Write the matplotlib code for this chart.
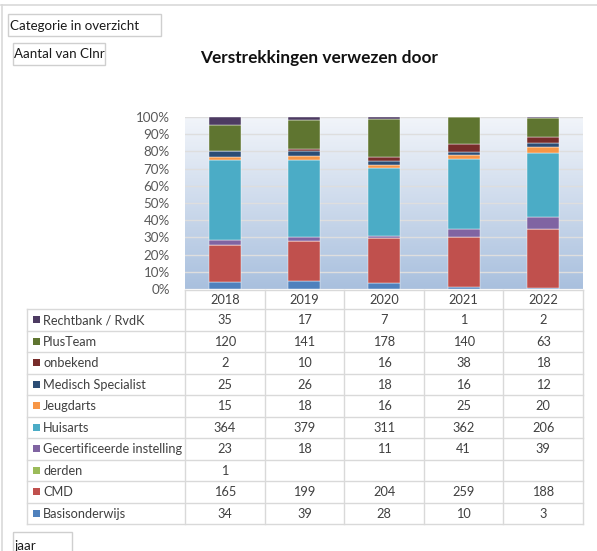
import numpy as np
import matplotlib
matplotlib.use("Agg")
import matplotlib.pyplot as plt
from matplotlib.patches import Rectangle
from matplotlib.colors import LinearSegmentedColormap

plt.rcParams['font.family'] = ['Lato', 'DejaVu Sans']

# data
years = ['2018', '2019', '2020', '2021', '2022']
# bottom to top of the stack
categories = ['Basisonderwijs', 'CMD', 'derden', 'Gecertificeerde instelling', 'Huisarts',
              'Jeugdarts', 'Medisch Specialist', 'onbekend', 'PlusTeam', 'Rechtbank / RvdK']
basisonderwijs = [34, 39, 28, 10, 3]
cmd = [165, 199, 204, 259, 188]
derden = [1, None, None, None, None]
gecertificeerd = [23, 18, 11, 41, 39]
huisarts = [364, 379, 311, 362, 206]
jeugdarts = [15, 18, 16, 25, 20]
medisch = [25, 26, 18, 16, 12]
onbekend = [2, 10, 16, 38, 18]
plusteam = [120, 141, 178, 140, 63]
rechtbank = [35, 17, 7, 1, 2]
series = [basisonderwijs, cmd, derden, gecertificeerd, huisarts,
          jeugdarts, medisch, onbekend, plusteam, rechtbank]
colors = ['#4F81BD', '#C0504D', '#9BBB59', '#8064A2', '#4BACC6',
          '#F79646', '#2C4D75', '#772C2A', '#5F7530', '#4D3B62']

W, H = 597, 551
fig = plt.figure(figsize=(W / 100, H / 100), dpi=100)

# canvas in pixel coords for boxes and the data table
cv = fig.add_axes([0, 0, 1, 1])
cv.set_xlim(0, W)
cv.set_ylim(H, 0)
cv.axis('off')

# chart area border
cv.plot([1, W], [5, 5], color='#d9d9d9', lw=1.2)
cv.plot([1.5, 1.5], [5, H], color='#d9d9d9', lw=1.2)

# field buttons
def box(x0, y0, x1, y1, txt):
    cv.add_patch(Rectangle((x0, y0), x1 - x0, y1 - y0, fill=False, ec='#cfcfcf', lw=1))
    cv.text(x0 + 1.5, (y0 + y1) / 2 + 0.5, txt, fontsize=9.6, va='center', ha='left', color='#1a1a1a')

box(8, 14, 161, 36, 'Categorie in overzicht')
box(13, 43, 105, 65, 'Aantal van Clnr')
box(13, 532, 72, 560, 'jaar')

cv.text(319, 58, 'Verstrekkingen verwezen door', fontsize=12.4, fontweight='bold',
        ha='center', va='center', color='#111111')

# plot area
px0, px1, py0, py1 = 185, 583, 117, 289
ax = fig.add_axes([px0 / W, 1 - py1 / H, (px1 - px0) / W, (py1 - py0) / H])
grad = np.linspace(0, 1, 256).reshape(-1, 1)
cmap = LinearSegmentedColormap.from_list('bg', ['#a9c0de', '#f2f5fa'])
ax.imshow(grad, aspect='auto', cmap=cmap, extent=[-0.5, 4.5, 0, 100], origin='lower', zorder=0)

vals = np.array([[v if v is not None else 0 for v in s] for s in series], dtype=float)
totals = vals.sum(axis=0)
pct = vals / totals * 100
x = np.arange(len(years))
bottom = np.zeros(len(years))
for i, c in enumerate(categories):
    ax.bar(x, pct[i], 0.4, bottom=bottom, color=colors[i], zorder=3,
           edgecolor='#ffffff', linewidth=0.3)
    bottom += pct[i]

ax.set_xlim(-0.5, 4.5)
ax.set_ylim(0, 100)
ax.set_yticks(np.arange(0, 101, 10))
ax.set_yticklabels([f'{t}%' for t in range(0, 101, 10)], fontsize=9.6, color='#595959')
ax.yaxis.grid(True, color='#dedede', lw=1, zorder=1)
ax.set_xticks([])
ax.tick_params(axis='y', length=0, pad=11)
for s in ax.spines.values():
    s.set_visible(False)

# data table
line_c = '#d9d9d9'
fs = 9.2
col_w = (px1 - px0) / len(years)
hdr_top, hdr_bot = 290, 309
row_h = 21.5
n_rows = len(categories)
tbl_bot = hdr_bot + n_rows * row_h
lab_x0 = 27

# header
cv.plot([px0, px1], [hdr_top, hdr_top], color=line_c, lw=1)
for j, yr in enumerate(years):
    cv.text(px0 + (j + 0.5) * col_w, (hdr_top + hdr_bot) / 2 + 0.5, yr, fontsize=fs,
            ha='center', va='center', color='#404040')
# horizontal lines
for r in range(n_rows + 1):
    yy = hdr_bot + r * row_h
    cv.plot([lab_x0, px1], [yy, yy], color=line_c, lw=1)
# vertical lines
cv.plot([lab_x0, lab_x0], [hdr_bot, tbl_bot], color=line_c, lw=1)
for j in range(len(years) + 1):
    xx = px0 + j * col_w
    cv.plot([xx, xx], [hdr_top, tbl_bot], color=line_c, lw=1)

# rows, top to bottom reverses the stack
for r in range(n_rows):
    k = n_rows - 1 - r
    yc = hdr_bot + (r + 0.5) * row_h
    cv.add_patch(Rectangle((33, yc - 3.5), 7, 7, color=colors[k], lw=0))
    cv.text(43, yc + 0.5, categories[k], fontsize=fs, ha='left', va='center', color='#404040')
    for j in range(len(years)):
        v = series[k][j]
        if v is not None:
            cv.text(px0 + (j + 0.5) * col_w, yc + 0.5, str(v), fontsize=fs,
                    ha='center', va='center', color='#404040')

fig.savefig('out.png', dpi=100)
